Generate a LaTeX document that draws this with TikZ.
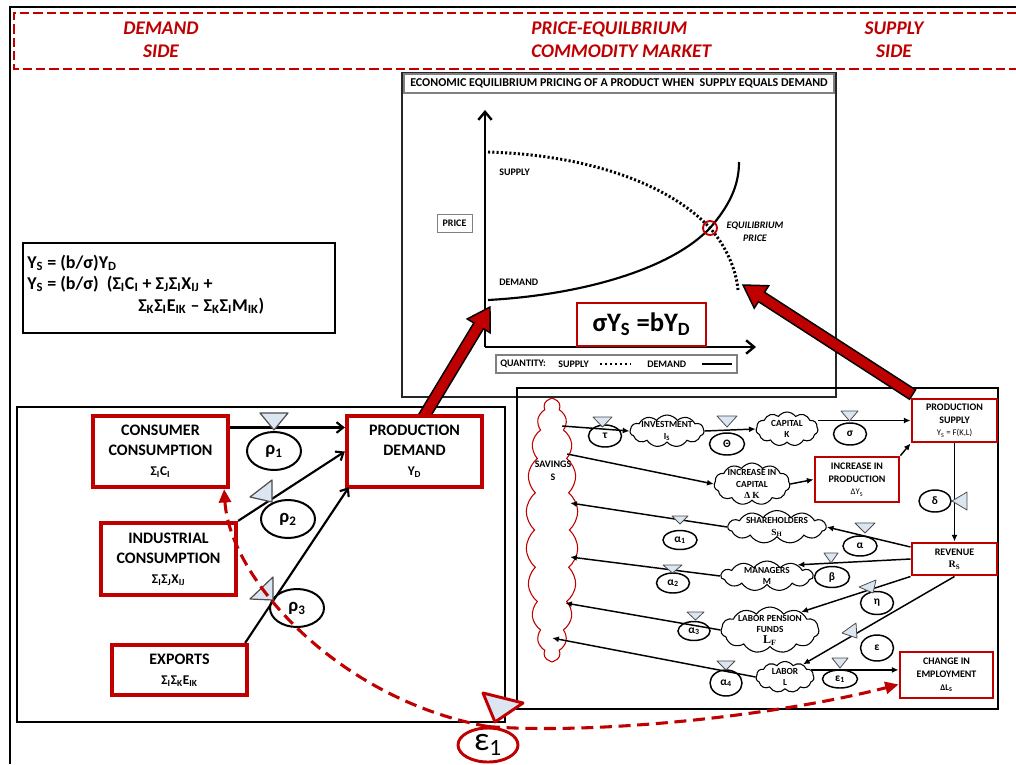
\documentclass[tikz,border=0pt]{standalone}
\usepackage{fontspec}
\setmainfont{Carlito}
\newfontfamily\serifb{Liberation Serif}
\usetikzlibrary{shapes.geometric,shapes.symbols,arrows.meta,calc}
\definecolor{dred}{HTML}{C00000}
\definecolor{lblue}{HTML}{DCE6F2}
\newcommand\myfs[2]{\fontsize{#1}{#2}\selectfont}
\newcommand\sbs[1]{\textsubscript{#1}}
\pgfdeclarelayer{bg}\pgfdeclarelayer{mid}\pgfsetlayers{bg,mid,main}
\newcommand\fatarr[2]{%
  \coordinate (fB) at ($(#2)!16.5pt!(#1)$);
  \filldraw[fill=dred, draw=black, line width=1.1pt, line join=miter]
   ($(#1)!4.2pt!90:(#2)$) -- ($(fB)!4.2pt!-90:(#1)$) -- ($(fB)!10pt!-90:(#1)$) -- (#2)
   -- ($(fB)!10pt!90:(#1)$) -- ($(fB)!4.2pt!90:(#1)$) -- ($(#1)!4.2pt!-90:(#2)$) -- cycle;}
\tikzset{
 sz/.style 2 args={minimum width=#1*0.75pt, minimum height=#2*0.75pt},
 bann/.style={text=dred, font=\bfseries\itshape\myfs{14.5}{17.5}, inner sep=0pt},
 lbl/.style={font=\bfseries\myfs{7.5}{9}, inner sep=0pt},
 fm/.style={font=\bfseries\myfs{13.5}{15}, inner sep=0pt},
 redbox/.style={rectangle, draw=dred, line width=3.2pt, fill=white, align=center, font=\bfseries\myfs{12}{15}, inner sep=0pt},
 rbox/.style={rectangle, draw=dred, line width=2.2pt, fill=white, align=center, font=\bfseries\myfs{7.5}{9.5}, inner sep=0pt},
 bigell/.style={ellipse, draw, line width=1.5pt, fill=white, inner sep=0pt, font=\bfseries\myfs{14}{14}},
 smell/.style={ellipse, draw, line width=1.1pt, fill=white, inner sep=0pt, font=\bfseries\myfs{8.5}{9}},
 cl/.style={cloud, cloud puffs=11, cloud puff arc=110, cloud ignores aspect, draw, line width=0.8pt, fill=white, inner sep=0pt},
 cltxt/.style={align=center, inner sep=0pt, font=\bfseries\myfs{7}{8.5}},
 arr/.style={line width=1.6pt, -{Straight Barb[length=5pt,width=8pt]}},
 sarr/.style={line width=1.1pt, -{Latex[length=5pt,width=4.5pt]}},
 tri/.style={fill=lblue, draw=black!70, line width=0.6pt, line join=round},
 rdash/.style={draw=dred, line width=2.3pt, dash pattern=on 9pt off 5pt},
}
\begin{document}
\begin{tikzpicture}[x=0.75pt,y=-0.75pt]
\useasboundingbox (0,0) rectangle (1016,764);
\begin{pgfonlayer}{bg}
\fill[white] (0,0) rectangle (1016,764);
% outer frame and banner
\draw[line width=1.5pt] (10,764) -- (10,7) -- (1016,7);
\draw[dred, line width=2.2pt, dash pattern=on 7pt off 3pt] (1016,13) -- (14,13) -- (14,69) -- (1016,69);
\node[bann, align=center] (bd) at (161,39.5) {DEMAND\\SIDE};
\node[bann, align=left, anchor=west] (bp) at (531,39.5) {PRICE-EQUILBRIUM\\COMMODITY MARKET};
\node[bann, align=center] (bs) at (894,39.5) {SUPPLY\\SIDE};
% chart
\draw[line width=0.8pt, draw=black!85] (402,73) rectangle (836,397);
\node[draw=black!50, line width=0.8pt, sz={430}{19}, font=\bfseries\myfs{9}{10}, inner sep=0pt] (ttl) at (619,83.5) {ECONOMIC EQUILIBRIUM PRICING OF A PRODUCT WHEN\ \ SUPPLY EQUALS DEMAND};
\coordinate (O) at (485,347);
\coordinate (Ytop) at (485,110);
\coordinate (Xend) at (756,347);
\draw[line width=1.8pt, -{Straight Barb[length=6pt,width=10pt]}] (O) -- (Ytop);
\draw[line width=1.8pt, -{Straight Barb[length=6pt,width=10pt]}] (O) -- (Xend);
\coordinate (sup0) at (488,152);
\coordinate (eqp) at (710,228);
\coordinate (sup1) at (738,290);
\coordinate (dem0) at (488,300);
\coordinate (dem1) at (739,162);
\draw[line width=2.2pt, dash pattern=on 1.6pt off 1.6pt] (sup0) .. controls (590,155) and (670,185) .. (eqp) .. controls (725,245) and (736,268) .. (sup1);
\draw[line width=1.6pt] (dem0) .. controls (580,295) and (670,270) .. (eqp) .. controls (730,205) and (739,185) .. (dem1);
\node[circle, draw=dred, line width=1.4pt, minimum size=14*0.75pt, inner sep=0pt] (eq) at (eqp) {};
\node[lbl, anchor=west] (sl) at (499,172) {SUPPLY};
\node[lbl, anchor=west] (dl) at (499,282) {DEMAND};
\node[lbl, font=\bfseries\itshape\myfs{7.5}{9.8}, align=center] (epl) at (755,231.5) {EQUILIBRIUM\\PRICE};
\node[lbl, draw=black!50, line width=0.7pt, sz={35}{18}] (pr) at (454.5,223) {PRICE};
\node[draw=dred, line width=2pt, fill=white, sz={129}{43}, inner sep=0pt, font=\bfseries\myfs{20}{20}] (sy) at (641.5,324.5) {σY\sbs{S} =bY\sbs{D}};
\draw[draw=black!50, line width=0.8pt] (496,355) rectangle (737,373);
\node[lbl, anchor=west] (q1) at (500,364) {QUANTITY:};
\node[lbl, anchor=west] (q2) at (558,364) {SUPPLY};
\draw[line width=2pt, dash pattern=on 1.6pt off 2.2pt] (600,364) -- (631,364);
\node[lbl, anchor=west] (q3) at (647,364) {DEMAND};
\draw[line width=1.8pt] (702,364) -- (732,364);
% formula box
\draw[line width=1.6pt] (23,243) rectangle (335,333);
\node[fm, anchor=base west] (f1) at (27,268) {Y\sbs{S} = (b/σ)Y\sbs{D}};
\node[fm, anchor=base west] (f2) at (27,289) {Y\sbs{S} = (b/σ)\ \ (Σ\sbs{I}C\sbs{I} + Σ\sbs{J}Σ\sbs{I}X\sbs{IJ} +};
\node[fm, anchor=base west] (f3) at (138,311) {Σ\sbs{K}Σ\sbs{I}E\sbs{IK} – Σ\sbs{K}Σ\sbs{I}M\sbs{IK})};
% big boxes
\draw[line width=1.6pt] (17,407) rectangle (505,722);
\draw[line width=1.2pt] (517,388) rectangle (998,709);
\end{pgfonlayer}

% ---------- demand side ----------
\node[redbox, sz={135}{71}] (cc) at (160.5,451.5) {CONSUMER\\CONSUMPTION\\{\myfs{10}{12}Σ\sbs{I}C\sbs{I}}};
\node[redbox, sz={135}{71}] (pd) at (414.5,451.5) {PRODUCTION\\DEMAND\\{\myfs{10}{12}Y\sbs{D}}};
\node[redbox, sz={135}{72}] (ic) at (168.5,559) {INDUSTRIAL\\CONSUMPTION\\{\myfs{10}{12}Σ\sbs{I}Σ\sbs{J}X\sbs{IJ}}};
\node[redbox, sz={135}{50}] (ex) at (179.5,670) {EXPORTS\\{\myfs{10}{12}Σ\sbs{I}Σ\sbs{K}E\sbs{IK}}};
\node[bigell, sz={54}{38}] (r1) at (274,451) {ρ\sbs{1}};
\node[bigell, sz={54}{38}] (r2) at (288,519) {ρ\sbs{2}};
\node[bigell, sz={54}{38}] (r3) at (297,608) {ρ\sbs{3}};
\draw[arr] ($(cc.east)+(0,-24)$) -- ($(pd.west)+(0,-24)$);
\draw[arr] (ic.north east) -- (pd.west);
\draw[arr] ($(ex.north east)+(-4,0)$) -- ($(pd.south west)+(4,-2)$);
\filldraw[tri, line width=0.9pt] (260,413) -- (288,413) -- (274,430) -- cycle;
\filldraw[tri, line width=0.9pt] (250,497) -- (272,480) -- (272,502) -- cycle;
\filldraw[tri, line width=0.9pt] (250,599) -- (273,577) -- (273,600) -- cycle;

% ---------- supply side ----------
\node[cl, draw=dred, cloud puffs=22, cloud puff arc=100, sz={52}{264}] (sav) at (552,530) {};
\node[font=\bfseries\myfs{7.5}{9.5}, align=center, inner sep=0pt] (savt) at (553,471) {SAVINGS\\S};
\node[cl, sz={74}{32}, label={[cltxt]center:INVESTMENT\\I\sbs{S}}] (inv) at (667,431) {};
\node[cl, sz={62}{34}, label={[cltxt]center:CAPITAL\\K}] (cap) at (787,429) {};
\node[cl, sz={76}{42}, label={[cltxt]center:INCREASE IN\\CAPITAL\\{\serifb Δ K}}] (dk) at (752,484) {};
\node[cl, sz={98}{33}, label={[cltxt]center:SHAREHOLDERS\\{\serifb\bfseries S\sbs{H}}}] (sh) at (777,527) {};
\node[cl, sz={92}{30}, label={[cltxt]center:MANAGERS\\M}] (mg) at (767,576) {};
\node[cl, sz={98}{46}, label={[cltxt]center:LABOR PENSION\\FUNDS\\{\serifb\bfseries\myfs{9}{9}L\sbs{F}}}] (lpf) at (770,630) {};
\node[cl, sz={58}{31}, label={[cltxt]center:LABOR\\L}] (lab) at (785,677) {};
\node[rbox, sz={85}{43}] (ps) at (954.5,420.5) {PRODUCTION\\SUPPLY\\{\mdseries\myfs{6.5}{8}Y\sbs{S} = F(K,L)}};
\node[rbox, sz={84}{45}] (ip) at (857,479.5) {INCREASE IN\\PRODUCTION\\{\mdseries\myfs{6.5}{8}ΔY\sbs{S}}};
\node[rbox, sz={85}{32}] (rev) at (954.5,559) {REVENUE\\{\serifb\bfseries R\sbs{S}}};
\node[rbox, sz={93}{46}] (ce) at (946.5,675) {CHANGE IN\\EMPLOYMENT\\{\myfs{6.5}{8}ΔL\sbs{S}}};

\node[smell, sz={33}{22}] (tau) at (605,436) {τ};
\node[smell, sz={35}{22}] (th) at (727,444) {Θ};
\node[smell, sz={33}{22}] (sg) at (850,434) {σ};
\node[smell, sz={32}{22}] (dl2) at (935,501) {δ};
\node[smell, sz={34}{20}] (al) at (860,546) {α};
\node[smell, sz={34}{19}] (a1) at (680,540) {α\sbs{1}};
\node[smell, sz={35}{21}] (be) at (832,577) {β};
\node[smell, sz={33}{20}] (a2) at (673,583) {α\sbs{2}};
\node[smell, sz={33}{23}] (et) at (877,603) {η};
\node[smell, sz={32}{19}] (a3) at (694,631) {α\sbs{3}};
\node[smell, sz={33}{26}] (ep) at (877,648) {ε};
\node[smell, sz={35}{18}] (ep1) at (840,679) {ε\sbs{1}};
\node[smell, sz={32}{26}] (a4) at (726,683) {α\sbs{4}};

\draw[sarr] ($(sav.east)+(-8,-104)$) -- (inv.west);
\draw[sarr] (inv.east) -- (cap.west);
\draw[sarr] (cap.east |- ps.west) -- (ps.west);
\draw[sarr] ($(sav.east)+(-3,-76)$) -- (dk.west);
\draw[sarr] (dk.east) -- (ip.west);
\draw[sarr] (ip.north east) -- (ps.south west);
\draw[sarr] (ps.south) -- (rev.north);
\draw[sarr] ($(rev.west)+(0,-12)$) -- (sh.east);
\draw[sarr] (rev.west) -- (mg.20);
\draw[sarr] (rev.south west) -- (lpf.30);
\draw[sarr] (rev.south) -- (lab.35);
\draw[sarr] (lab.15) -- (lab.15 -| ce.west);
\draw[sarr] (sh.west) -- ($(sav.east)+(0,-27)$);
\draw[sarr] (mg.west) -- ($(sav.east)+(0,27)$);
\draw[sarr] (lpf.west) -- ($(sav.east)+(-5,73)$);
\draw[sarr] (lab.west) -- ($(sav.east)+(-18,108)$);

\filldraw[tri] (593,417) -- (612,417) -- (602.5,427) -- cycle;
\filldraw[tri] (717,416) -- (737,416) -- (727,427) -- cycle;
\filldraw[tri] (841,411) -- (858,411) -- (849.5,421) -- cycle;
\filldraw[tri] (952,501) -- (967,492) -- (967,510) -- cycle;
\filldraw[tri] (855,523) -- (875,523) -- (865,533) -- cycle;
\filldraw[tri] (672,516) -- (688,516) -- (680,524) -- cycle;
\filldraw[tri] (824,553) -- (838,553) -- (831,563) -- cycle;
\filldraw[tri] (663,565) -- (682,565) -- (672.5,573) -- cycle;
\filldraw[tri] (859,587) -- (876,580) -- (873,593) -- cycle;
\filldraw[tri] (687,612) -- (704,612) -- (695.5,620) -- cycle;
\filldraw[tri] (842,633) -- (856,623) -- (857,638) -- cycle;
\filldraw[tri] (832,658) -- (848,658) -- (840,668) -- cycle;
\filldraw[tri] (717,661) -- (735,661) -- (726,670) -- cycle;

% ---------- fat arrows ----------
\coordinate (tipL) at (490,307);
\coordinate (tipR) at (743,285);
\begin{pgfonlayer}{mid}
\fatarr{$(pd.north)+(8,5)$}{tipL}
\fatarr{$(ps.north west)+(2,-3)$}{tipR}
\end{pgfonlayer}

% ---------- epsilon 1 ----------
\node[ellipse, draw=dred, line width=2.2pt, fill=white, sz={60}{34}, inner sep=0pt, font=\myfs{25}{25}] (e1) at (488,745) {ε\sbs{1}};
\draw[rdash, -{Triangle[length=10pt,width=9pt]}] (e1.north) .. controls (340,700) and (230,580) .. ($(cc.south east)+(-6,0)$);
\draw[rdash, -{Triangle[length=10pt,width=9pt]}] (e1.north) .. controls (600,735) and (780,715) .. ($(ce.south west)+(0,-15)$);
\filldraw[fill=lblue, draw=dred, line width=2.2pt, line join=round] (483,693) -- (523,703) -- (495,722) -- cycle;
\end{tikzpicture}
\end{document}
